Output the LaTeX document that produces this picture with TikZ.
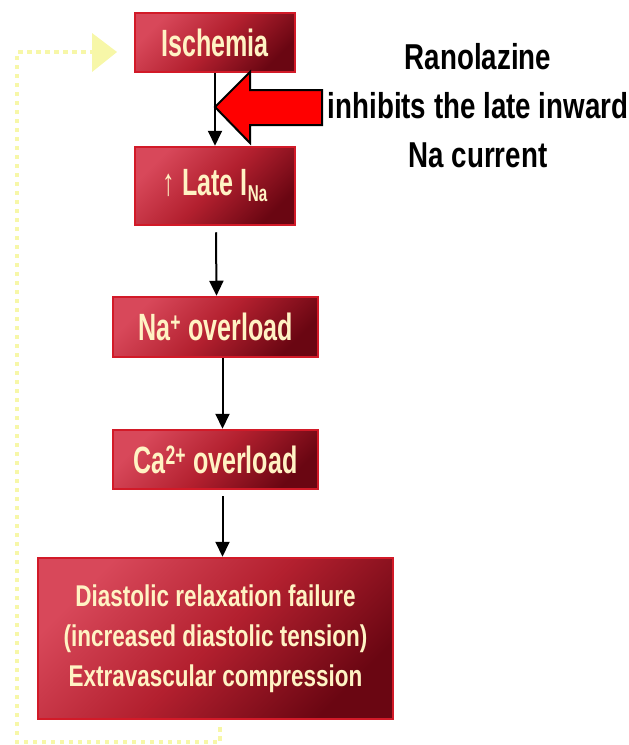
\documentclass[tikz,border=0pt]{standalone}
\usepackage{fontspec}
\setmainfont{Liberation Sans}
\newfontfamily\boxfont[FakeStretch=0.66]{Liberation Sans}
\newfontfamily\widebox[FakeStretch=0.75]{Liberation Sans}
\newfontfamily\notefont[FakeStretch=0.77]{Liberation Sans}
\usetikzlibrary{arrows.meta}

\definecolor{boxlight}{HTML}{D8485A}
\definecolor{boxmid}{HTML}{B3202F}
\definecolor{boxdark}{HTML}{6A0612}
\definecolor{boxedge}{HTML}{D21A28}
\definecolor{boxtext}{HTML}{FFF3C4}
\definecolor{loopyellow}{HTML}{F7F7A8}
\definecolor{blockred}{HTML}{FF0000}

\tikzset{
  stepbox/.style={draw=boxedge, line width=2.5pt,
    top color=boxlight, bottom color=boxdark, middle color=boxmid,
    shading angle=45, text=boxtext, inner sep=0pt, align=center,
    font=\boxfont\bfseries\fontsize{38}{40}\selectfont},
  flow/.style={line width=2pt, -{Triangle[length=15pt,width=14pt]}},
  loopline/.style={draw=loopyellow, line width=4.5pt, dash pattern=on 4.5pt off 4.5pt},
  blockarrow/.style={fill=blockred, draw=black, line width=2pt, line join=miter},
}

\begin{document}
\begin{tikzpicture}[x=1pt, y=-1pt]
  \useasboundingbox (0,0) rectangle (629,745);

  % feedback loop from the last step back to ischemia
  \coordinate (loopstart) at (220,727);
  \coordinate (loopend) at (93,52);
  \draw[loopline] (loopstart) -- (220,742) -- (17,742) -- (17,52) -- (loopend);
  \fill[loopyellow] (92,33) -- (117,52) -- (92,72) -- cycle;

  % cascade of steps
  \node[stepbox, minimum width=160pt, minimum height=59pt] (isch) at (215,42.5) {Ischemia};
  \node[stepbox, minimum width=160pt, minimum height=78pt] (late) at (215,186)
    {↑ Late I\raisebox{-6pt}{\fontsize{23}{23}\selectfont Na}};
  \node[stepbox, minimum width=205pt, minimum height=60pt] (na) at (215.5,327)
    {Na\textsuperscript{+} overload};
  \node[stepbox, minimum width=205pt, minimum height=59pt] (ca) at (215.5,459.5)
    {Ca\textsuperscript{2+} overload};
  \node[stepbox, minimum width=355pt, minimum height=161pt,
        font=\widebox\bfseries\fontsize{30}{40}\selectfont] (diast) at (215.5,638.5)
    {Diastolic relaxation failure\\(increased diastolic tension)\\Extravascular compression};

  % arrows between the steps
  \draw[flow] (isch.south) -- (late.north);
  \draw[flow] ([xshift=1pt,yshift=-6pt]late.south) -- ([xshift=1pt]na.north);
  \draw[flow] ([xshift=7pt]na.south) -- ([xshift=7pt]ca.north);
  \draw[flow] ([xshift=7pt,yshift=-6pt]ca.south) -- ([xshift=7pt]diast.north);

  % drug action note
  \node[font=\notefont\bfseries\fontsize{36}{49}\selectfont, align=center] (rano) at (478,106)
    {Ranolazine\\inhibits the late inward\\Na current};

  % block arrow pointing at the ischemia -> late I_Na step
  \coordinate (tip) at (215,107);
  \draw[blockarrow] (tip) -- (250,72) -- (250,90) -- (322,90) -- (322,125)
    -- (250,125) -- (250,143) -- cycle;
\end{tikzpicture}
\end{document}
